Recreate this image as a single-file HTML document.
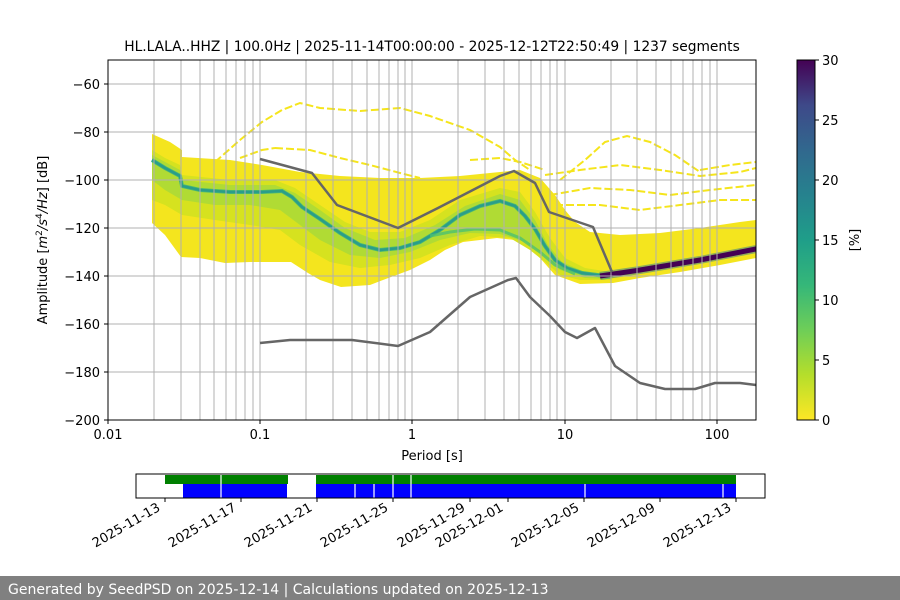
<!DOCTYPE html>
<html><head><meta charset="utf-8"><style>
html,body{margin:0;padding:0;background:#fff;}
svg{display:block;font-family:"DejaVu Sans","Liberation Sans",sans-serif;}
</style></head><body>
<svg width="900" height="600" viewBox="0 0 900 600" xmlns="http://www.w3.org/2000/svg">
<defs>
<linearGradient id="vir" x1="0" y1="1" x2="0" y2="0">
<stop offset="0" stop-color="#fde725"/><stop offset="0.125" stop-color="#b5de2b"/><stop offset="0.25" stop-color="#6ece58"/><stop offset="0.375" stop-color="#35b779"/><stop offset="0.5" stop-color="#1f9e89"/><stop offset="0.625" stop-color="#26828e"/><stop offset="0.75" stop-color="#31688e"/><stop offset="0.875" stop-color="#3e4989"/><stop offset="1" stop-color="#440154"/>
</linearGradient>
<clipPath id="ax"><rect x="108" y="60" width="648" height="360"/></clipPath>
</defs>
<rect width="900" height="600" fill="#fff"/>
<text x="432" y="51" font-size="13.8" text-anchor="middle">HL.LALA..HHZ | 100.0Hz | 2025-11-14T00:00:00 - 2025-12-12T22:50:49 | 1237 segments</text>

<g clip-path="url(#ax)">
<polygon fill="#f4e51e" points="152,134 170,142 182,150 182,157 230,160 262,165 300,172 340,176 380,178 420,178 460,176 500,172 520,170 540,178 555,195 565,210 575,222 590,232 620,235 660,233 700,228 740,222 756,220 756,258 720,265 680,272 640,278 613,283 580,284 555,275 540,258 530,247 515,240 497,238 480,240 463,242 445,250 430,260 410,270 391,277 370,285 341,287 320,280 308,273 291,262 270,262 250,262 225,263 200,258 181,257 165,235 152,223"/>
<polygon fill="#d6e21f" points="152,150 165,158 180,165 182,175 230,180 275,180 295,188 320,205 345,222 370,232 400,232 430,220 460,200 500,188 520,192 535,212 550,238 565,258 585,268 610,272 612,280 580,280 560,275 545,262 530,250 510,238 480,236 450,245 420,258 390,265 360,268 330,262 300,245 280,230 250,225 215,220 182,215 165,205 152,200"/>
<polygon fill="#a6d93a" opacity="0.8" points="152,155 180,170 182,180 230,185 275,185 295,193 320,210 345,228 375,240 405,238 435,225 465,206 500,194 520,200 535,220 548,245 562,262 585,272 610,274 610,279 585,278 560,270 545,255 525,242 500,234 470,233 440,240 410,252 380,258 350,255 320,240 296,222 280,210 250,205 215,205 182,200 165,190 152,180"/>
<polyline fill="none" stroke="#3fb57a" stroke-width="4" opacity="0.9" points="152,160 165,168 180,176 182,186 200,190 230,192 262,192 282,191 292,197 302,207 320,219 340,233 360,245 380,250 400,248 420,242 440,230 460,215 480,206 500,201 515,206 525,216 535,229 545,246 555,260 567,268 582,273 605,276"/>
<polyline fill="none" stroke="#2a9d8a" stroke-width="2.5" points="152,160 165,168 180,176 182,186 200,190 230,192 262,192 282,191 292,197 302,207 320,219 340,233 360,245 380,250 400,248 420,242 440,230 460,215 480,206 500,201 515,206 525,216 535,229 545,246 555,260 567,268 582,273 605,276"/>
<polyline fill="none" stroke="#4cc070" stroke-width="3" opacity="0.8" points="430,236 450,232 475,229 500,230 520,238 540,252 555,265 575,274"/>
<polyline fill="none" stroke="#2a788e" stroke-width="8" opacity="0.5" points="600,276 640,270 700,260 756,249"/>
<polyline fill="none" stroke="#440154" stroke-width="5" points="600,276 640,270 700,260 756,249"/>
<g fill="none" stroke="#f5e51c" stroke-width="2" stroke-dasharray="8 3">
<polyline points="215,162 240,140 262,122 282,110 300,103 320,108 360,111 400,108 430,116 470,130 500,147 515,160 530,170"/>
<polyline points="275,148 310,150 340,158 370,165 400,173 420,178"/>
<polyline points="240,158 262,150 275,148"/>
<polyline points="560,180 585,160 605,142 627,136 650,142 675,155 700,172"/>
<polyline points="545,175 580,170 620,165 660,170 700,176 740,172 756,168"/>
<polyline points="550,195 590,188 630,190 670,195 710,190 756,185"/>
<polyline points="555,205 600,205 640,210 680,205 720,200 756,200"/>
<polyline points="700,170 730,165 756,162"/>
<polyline points="470,160 500,158 520,162 545,170"/>
</g>
</g>

<g stroke="#b0b0b0" stroke-width="1">
<line x1="154" y1="60" x2="154" y2="420"/><line x1="181" y1="60" x2="181" y2="420"/><line x1="200" y1="60" x2="200" y2="420"/><line x1="214" y1="60" x2="214" y2="420"/><line x1="226" y1="60" x2="226" y2="420"/><line x1="236" y1="60" x2="236" y2="420"/><line x1="245" y1="60" x2="245" y2="420"/><line x1="253" y1="60" x2="253" y2="420"/>
<line x1="260" y1="60" x2="260" y2="420"/>
<line x1="306" y1="60" x2="306" y2="420"/><line x1="333" y1="60" x2="333" y2="420"/><line x1="352" y1="60" x2="352" y2="420"/><line x1="367" y1="60" x2="367" y2="420"/><line x1="379" y1="60" x2="379" y2="420"/><line x1="389" y1="60" x2="389" y2="420"/><line x1="398" y1="60" x2="398" y2="420"/><line x1="405" y1="60" x2="405" y2="420"/>
<line x1="412" y1="60" x2="412" y2="420"/>
<line x1="458" y1="60" x2="458" y2="420"/><line x1="485" y1="60" x2="485" y2="420"/><line x1="504" y1="60" x2="504" y2="420"/><line x1="519" y1="60" x2="519" y2="420"/><line x1="531" y1="60" x2="531" y2="420"/><line x1="541" y1="60" x2="541" y2="420"/><line x1="550" y1="60" x2="550" y2="420"/><line x1="557" y1="60" x2="557" y2="420"/>
<line x1="565" y1="60" x2="565" y2="420"/>
<line x1="611" y1="60" x2="611" y2="420"/><line x1="637" y1="60" x2="637" y2="420"/><line x1="656" y1="60" x2="656" y2="420"/><line x1="671" y1="60" x2="671" y2="420"/><line x1="683" y1="60" x2="683" y2="420"/><line x1="693" y1="60" x2="693" y2="420"/><line x1="702" y1="60" x2="702" y2="420"/><line x1="710" y1="60" x2="710" y2="420"/>
<line x1="717" y1="60" x2="717" y2="420"/>
<line x1="108" y1="84" x2="756" y2="84"/><line x1="108" y1="132" x2="756" y2="132"/><line x1="108" y1="180" x2="756" y2="180"/><line x1="108" y1="228" x2="756" y2="228"/><line x1="108" y1="276" x2="756" y2="276"/><line x1="108" y1="324" x2="756" y2="324"/><line x1="108" y1="372" x2="756" y2="372"/>
</g>

<g fill="none" stroke="#666" stroke-width="2.5" stroke-linejoin="round">
<polyline points="260,159 312,173 337,205 398,228 438,208 500,176 514,171 535,183 549,212 593,227 612,272"/>
<polyline points="260,343 290,340 352,340 398,346 430,332 470,297 508,280 516,278 530,297 550,316 565,332 577,338 595,328 615,366 640,383 665,389 695,389 715,383 740,383 756,385"/>
</g>

<rect x="108" y="60" width="648" height="360" fill="none" stroke="#000" stroke-width="1"/>
<g stroke="#000" stroke-width="1">
<line x1="108" y1="420" x2="108" y2="424"/><line x1="260" y1="420" x2="260" y2="424"/><line x1="412" y1="420" x2="412" y2="424"/><line x1="565" y1="420" x2="565" y2="424"/><line x1="717" y1="420" x2="717" y2="424"/>
<line x1="104" y1="84" x2="108" y2="84"/><line x1="104" y1="132" x2="108" y2="132"/><line x1="104" y1="180" x2="108" y2="180"/><line x1="104" y1="228" x2="108" y2="228"/><line x1="104" y1="276" x2="108" y2="276"/><line x1="104" y1="324" x2="108" y2="324"/><line x1="104" y1="372" x2="108" y2="372"/><line x1="104" y1="420" x2="108" y2="420"/>
</g>
<g font-size="13" text-anchor="end">
<text x="100" y="89">−60</text><text x="100" y="137">−80</text><text x="100" y="185">−100</text><text x="100" y="233">−120</text><text x="100" y="281">−140</text><text x="100" y="329">−160</text><text x="100" y="377">−180</text><text x="100" y="425">−200</text>
</g>
<g font-size="13" text-anchor="middle">
<text x="108" y="439">0.01</text><text x="260" y="439">0.1</text><text x="412" y="439">1</text><text x="565" y="439">10</text><text x="717" y="439">100</text>
<text x="432" y="460">Period [s]</text>
</g>
<text transform="translate(47,240) rotate(-90)" font-size="13" text-anchor="middle">Amplitude [<tspan font-style="italic">m</tspan><tspan font-size="9" dy="-5">2</tspan><tspan dy="5" font-style="italic">/s</tspan><tspan font-size="9" dy="-5">4</tspan><tspan dy="5" font-style="italic">/Hz</tspan>] [dB]</text>

<rect x="797" y="60" width="18" height="360" fill="url(#vir)" stroke="#000" stroke-width="1"/>
<g stroke="#000"><line x1="815" y1="60" x2="819" y2="60"/><line x1="815" y1="120" x2="819" y2="120"/><line x1="815" y1="180" x2="819" y2="180"/><line x1="815" y1="240" x2="819" y2="240"/><line x1="815" y1="300" x2="819" y2="300"/><line x1="815" y1="360" x2="819" y2="360"/><line x1="815" y1="420" x2="819" y2="420"/></g>
<g font-size="13"><text x="822" y="65">30</text><text x="822" y="125">25</text><text x="822" y="185">20</text><text x="822" y="245">15</text><text x="822" y="305">10</text><text x="822" y="365">5</text><text x="822" y="425">0</text></g>
<text transform="translate(859,240) rotate(-90)" font-size="13" text-anchor="middle">[%]</text>

<rect x="165" y="475" width="123" height="9" fill="#008000"/>
<rect x="316" y="475" width="420" height="9" fill="#008000"/>
<rect x="183" y="484" width="104" height="14" fill="#0000ff"/>
<rect x="316" y="484" width="420" height="14" fill="#0000ff"/>
<g stroke="#fff" stroke-width="1.2">
<line x1="221" y1="475" x2="221" y2="498"/><line x1="355" y1="484" x2="355" y2="498"/><line x1="374" y1="484" x2="374" y2="498"/><line x1="393" y1="475" x2="393" y2="498"/><line x1="411" y1="475" x2="411" y2="498"/><line x1="585" y1="484" x2="585" y2="498"/><line x1="723" y1="484" x2="723" y2="498"/>
</g>
<rect x="136" y="474" width="629" height="24" fill="none" stroke="#000" stroke-width="1"/>
<g stroke="#000"><line x1="165" y1="498" x2="165" y2="502"/><line x1="241" y1="498" x2="241" y2="502"/><line x1="317" y1="498" x2="317" y2="502"/><line x1="393" y1="498" x2="393" y2="502"/><line x1="470" y1="498" x2="470" y2="502"/><line x1="508" y1="498" x2="508" y2="502"/><line x1="584" y1="498" x2="584" y2="502"/><line x1="660" y1="498" x2="660" y2="502"/><line x1="736" y1="498" x2="736" y2="502"/></g>
<g font-size="13" text-anchor="end">
<text transform="translate(161,510) rotate(-30)">2025-11-13</text>
<text transform="translate(237,510) rotate(-30)">2025-11-17</text>
<text transform="translate(313,510) rotate(-30)">2025-11-21</text>
<text transform="translate(389,510) rotate(-30)">2025-11-25</text>
<text transform="translate(466,510) rotate(-30)">2025-11-29</text>
<text transform="translate(504,510) rotate(-30)">2025-12-01</text>
<text transform="translate(580,510) rotate(-30)">2025-12-05</text>
<text transform="translate(656,510) rotate(-30)">2025-12-09</text>
<text transform="translate(732,510) rotate(-30)">2025-12-13</text>
</g>

<rect x="0" y="576" width="900" height="24" fill="#808080"/>
<text x="8" y="594" font-size="14" fill="#fff">Generated by SeedPSD on 2025-12-14 | Calculations updated on 2025-12-13</text>
</svg>
</body></html>
